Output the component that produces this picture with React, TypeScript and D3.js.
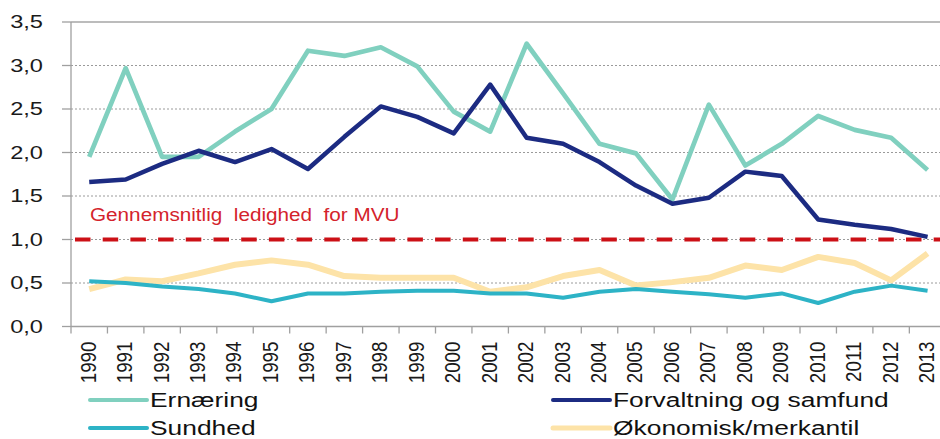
import { useEffect, useRef } from 'react';
import * as d3 from 'd3';

const years = d3.range(1990, 2014).map(String);

const ernaering = [1.95, 2.97, 1.95, 1.95, 2.24, 2.5, 3.17, 3.11, 3.21, 2.99, 2.47, 2.24, 3.25, 2.68, 2.1, 1.99, 1.46, 2.55, 1.85, 2.1, 2.42, 2.26, 2.17, 1.8];
const forvaltning = [1.66, 1.69, 1.87, 2.02, 1.89, 2.04, 1.81, 2.18, 2.53, 2.41, 2.22, 2.78, 2.17, 2.1, 1.89, 1.62, 1.41, 1.48, 1.78, 1.73, 1.23, 1.17, 1.12, 1.03];
const sundhed = [0.52, 0.5, 0.46, 0.43, 0.38, 0.29, 0.38, 0.38, 0.4, 0.41, 0.41, 0.38, 0.38, 0.33, 0.4, 0.43, 0.4, 0.37, 0.33, 0.38, 0.27, 0.4, 0.47, 0.41];
const okonomisk = [0.43, 0.54, 0.52, 0.61, 0.71, 0.76, 0.71, 0.58, 0.56, 0.56, 0.56, 0.4, 0.45, 0.58, 0.65, 0.47, 0.51, 0.56, 0.7, 0.65, 0.8, 0.73, 0.53, 0.84];

const yTicks = [0, 0.5, 1, 1.5, 2, 2.5, 3, 3.5];
const avgLevel = 1.0;
const avgLabel = 'Gennemsnitlig  ledighed  for MVU';

const series = [
  { name: 'Ernæring', values: ernaering, color: '#80d0bf', width: 4.7, legendWidth: 4 },
  { name: 'Sundhed', values: sundhed, color: '#2db3c6', width: 4, legendWidth: 4 },
  { name: 'Forvaltning og samfund', values: forvaltning, color: '#1c2b82', width: 4.5, legendWidth: 4 },
  { name: 'Økonomisk/merkantil', values: okonomisk, color: '#fde3a8', width: 6, legendWidth: 5 },
];

const FONT = '"Liberation Sans", Arial, sans-serif';

export default function App() {
  const svgRef = useRef<SVGSVGElement | null>(null);

  useEffect(() => {
    const width = 940;
    const height = 439;
    const margin = { top: 22, left: 71, bottom: 326.5, right: 945.8 };

    const svg = d3.select(svgRef.current);
    svg.selectAll('*').remove();
    svg.attr('width', width).attr('height', height);

    const x = d3.scaleBand().domain(years).range([margin.left, margin.right]).paddingInner(0).paddingOuter(0);
    const y = d3.scaleLinear().domain([0, 3.5]).range([margin.bottom, margin.top]);
    const cx = (d: string) => x(d)! + x.bandwidth() / 2;

    const g = svg.append('g');

    // gridlines
    yTicks.forEach(t => {
      if (t === 0) return;
      g.append('line')
        .attr('x1', margin.left).attr('x2', width)
        .attr('y1', y(t)).attr('y2', y(t))
        .attr('stroke', t === 3.5 ? '#a6a6a6' : '#9a9a9a')
        .attr('stroke-width', t === 3.5 ? 1.3 : 1)
        .attr('stroke-dasharray', t === 3.5 ? null : '2,2');
    });

    // y axis
    g.append('line')
      .attr('x1', margin.left).attr('x2', margin.left)
      .attr('y1', margin.top).attr('y2', margin.bottom)
      .attr('stroke', '#a0a0a0').attr('stroke-width', 1.3);
    yTicks.forEach(t => {
      g.append('line')
        .attr('x1', margin.left - 9).attr('x2', margin.left)
        .attr('y1', y(t)).attr('y2', y(t))
        .attr('stroke', '#a0a0a0').attr('stroke-width', 1.3);
      g.append('text')
        .attr('transform', `translate(43,${y(t)}) scale(1.27,1)`)
        .attr('text-anchor', 'end')
        .attr('dominant-baseline', 'central')
        .attr('font-family', FONT)
        .attr('font-size', 18.6)
        .attr('fill', '#1a1a1a')
        .text(d3.format('.1f')(t).replace('.', ','));
    });

    // x axis
    g.append('line')
      .attr('x1', margin.left).attr('x2', width)
      .attr('y1', margin.bottom).attr('y2', margin.bottom)
      .attr('stroke', '#a0a0a0').attr('stroke-width', 1.3);
    years.concat(['end']).forEach((d, i) => {
      const xt = margin.left + i * x.step();
      g.append('line')
        .attr('x1', xt).attr('x2', xt)
        .attr('y1', margin.bottom).attr('y2', margin.bottom + 7)
        .attr('stroke', '#a0a0a0').attr('stroke-width', 1.3);
    });
    years.forEach(d => {
      g.append('text')
        .attr('transform', `translate(${cx(d) - 1},341.5) scale(1.15,1) rotate(-90)`)
        .attr('text-anchor', 'end')
        .attr('dominant-baseline', 'central')
        .attr('font-family', FONT)
        .attr('font-size', 18.8)
        .attr('fill', '#1a1a1a')
        .text(d);
    });

    // average line
    g.append('line')
      .attr('x1', 75).attr('x2', width)
      .attr('y1', y(avgLevel)).attr('y2', y(avgLevel))
      .attr('stroke', '#cc1016').attr('stroke-width', 4)
      .attr('stroke-dasharray', '15.5,12.2');
    g.append('text')
      .attr('transform', `translate(90,221) scale(1.09,1)`)
      .attr('font-family', FONT)
      .attr('font-size', 19)
      .attr('fill', '#d4232b')
      .style('white-space', 'pre')
      .attr('xml:space', 'preserve')
      .text(avgLabel);

    // series lines
    const line = d3.line<number>()
      .x((_, i) => cx(years[i]))
      .y(v => y(v));
    const order = ['Økonomisk/merkantil', 'Sundhed', 'Ernæring', 'Forvaltning og samfund'];
    order.forEach(name => {
      const s = series.find(s => s.name === name)!;
      g.append('path')
        .attr('d', line(s.values)!)
        .attr('fill', 'none')
        .attr('stroke', s.color)
        .attr('stroke-width', s.width)
        .attr('stroke-linejoin', 'round');
    });

    // legend
    const legend = svg.append('g');
    series.forEach((s, i) => {
      const col = Math.floor(i / 2);
      const row = i % 2;
      const lx = col === 0 ? 90 : 553;
      const ly = 400 + row * 28;
      legend.append('line')
        .attr('x1', lx).attr('x2', lx + 57)
        .attr('y1', ly).attr('y2', ly)
        .attr('stroke', s.color)
        .attr('stroke-width', s.legendWidth)
        .attr('stroke-linecap', 'round');
      legend.append('text')
        .attr('transform', `translate(${lx + 60},${ly}) scale(1.32,1)`)
        .attr('dominant-baseline', 'central')
        .attr('font-family', FONT)
        .attr('font-size', 20)
        .attr('fill', '#111')
        .text(s.name);
    });
  }, []);

  return (
    <svg
      ref={svgRef}
      style={{ position: 'absolute', left: 0, top: 0, display: 'block', background: '#fff' }}
    />
  );
}
